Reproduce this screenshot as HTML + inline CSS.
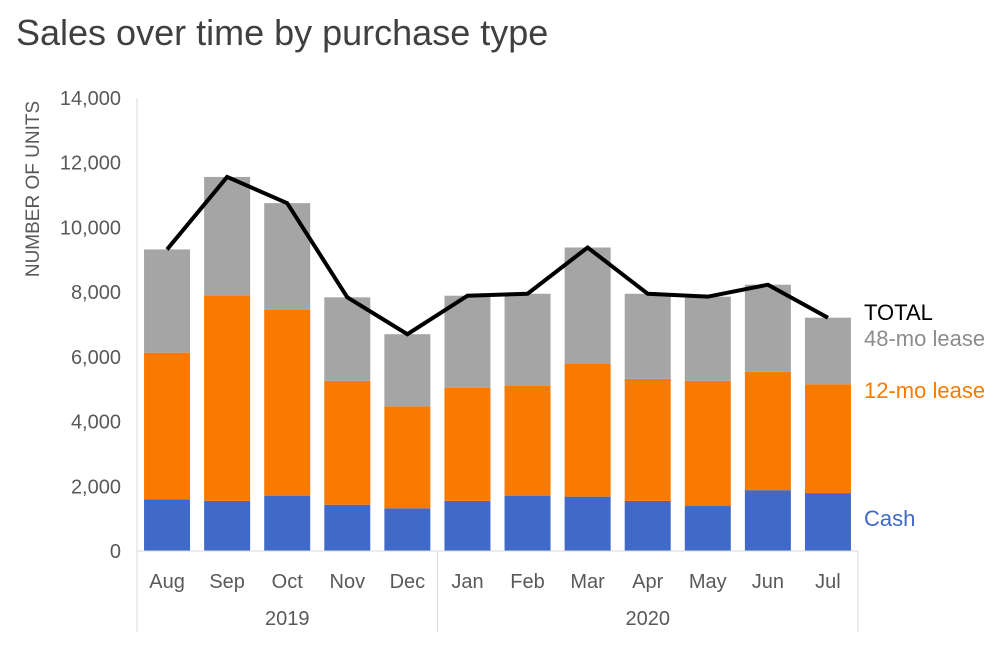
<!DOCTYPE html>
<html><head><meta charset="utf-8"><style>
body{margin:0;background:#fff;width:1000px;height:648px;overflow:hidden;font-family:"Liberation Sans",sans-serif}
</style></head><body>
<svg width="1000" height="648" font-family="Liberation Sans, sans-serif">
<text x="16" y="45" font-size="36" fill="#404040">Sales over time by purchase type</text>
<g id="g"></g>
</svg>
<script>
const months=["Aug","Sep","Oct","Nov","Dec","Jan","Feb","Mar","Apr","May","Jun","Jul"];
const cash=[1600,1550,1710,1430,1320,1550,1710,1680,1550,1390,1880,1790];
const lease12=[4530,6350,5740,3830,3150,3490,3390,4100,3770,3870,3660,3360];
const lease48=[3190,3660,3300,2580,2230,2850,2850,3600,2630,2600,2690,2060];
const yTicks=[0,2000,4000,6000,8000,10000,12000,14000];
const years=[{label:"2019",from:0,to:5},{label:"2020",from:5,to:12}];
const NS="http://www.w3.org/2000/svg",g=document.getElementById('g');
const x0=137,x1=858,y0=551,y1=98,band=(x1-x0)/12,bw=46;
const y=v=>y0-(v/14000)*(y0-y1);
const xc=i=>x0+band*(i+0.5);
function el(t,a,txt){const e=document.createElementNS(NS,t);for(const k in a)e.setAttribute(k,a[k]);if(txt!=null)e.textContent=txt;g.appendChild(e);return e;}
yTicks.forEach(v=>{const t=el('text',{x:121,y:y(v)+7,'font-size':20,fill:'#595959','text-anchor':'end'},v.toLocaleString('en-US'));

});
const yt=el('text',{transform:'translate(39,189) rotate(-90)','font-size':19,fill:'#595959','text-anchor':'middle'},'NUMBER OF UNITS');


const ya=el('line',{x1:x0,y1:y1,x2:x0,y2:y0,stroke:'#d9d9d9','stroke-width':1});


const totals=[];
months.forEach((m,i)=>{
  const segs=[[cash[i],'#4169c8','cash'],[lease12[i],'#f97a00','lease12'],[lease48[i],'#a5a5a5','lease48']];
  let base=0;
  segs.forEach(s=>{const r=el('rect',{x:xc(i)-bw/2,y:y(base+s[0]),width:bw,height:y(base)-y(base+s[0]),fill:s[1]});
    
    
    base+=s[0];});
  totals.push(base);
  const t=el('text',{x:xc(i),y:588,'font-size':20,fill:'#595959','text-anchor':'middle'},m);
  
  
});
const xa=el('line',{x1:x0,y1:y0,x2:x1,y2:y0,stroke:'#d9d9d9','stroke-width':1});


years.forEach(yr=>{
  const xs=x0+band*yr.from,xe=x0+band*yr.to;
  const t=el('text',{x:(xs+xe)/2,y:625,'font-size':20,fill:'#595959','text-anchor':'middle'},yr.label);
  
  
});
[0,5,12].forEach(k=>{const l=el('line',{x1:x0+band*k,y1:y0,x2:x0+band*k,y2:632,stroke:'#d9d9d9','stroke-width':1});
  
  });
const line=el('polyline',{points:totals.map((v,i)=>xc(i)+','+y(v)).join(' '),fill:'none',stroke:'#000','stroke-width':4,'stroke-linejoin':'miter'});


[['TOTAL',320,'#000','legend-total'],['48-mo lease',346,'#8c8c8c','legend-48mo'],['12-mo lease',398,'#f97a00','legend-12mo'],['Cash',526,'#4169c8','legend-cash']].forEach(l=>{
  const t=el('text',{x:864,y:l[1],'font-size':22,fill:l[2]},l[0]);
  
  
});
</script>
</body></html>
